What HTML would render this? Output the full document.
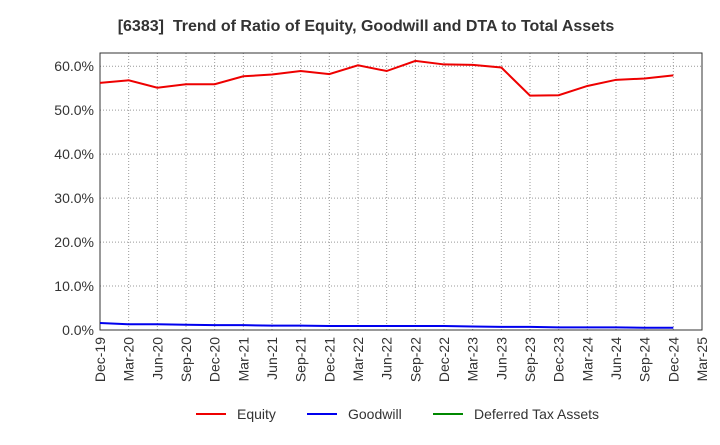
<!DOCTYPE html>
<html><head><meta charset="utf-8"><style>
body{margin:0;background:#fff;font-family:"Liberation Sans",sans-serif;}
</style></head><body>
<svg width="720" height="440" viewBox="0 0 720 440" id="chart">
<text x="366" y="31" text-anchor="middle" font-size="16" font-weight="bold" fill="#333" xml:space="preserve">[6383]  Trend of Ratio of Equity, Goodwill and DTA to Total Assets</text>
<g id="grid"></g><g id="axes"></g><g id="series"></g>
<g>
<line x1="196" y1="414" x2="226" y2="414" stroke="#e00" stroke-width="2"/>
<text x="237" y="419" font-size="14" fill="#333">Equity</text>
<line x1="307" y1="414" x2="337" y2="414" stroke="#00e" stroke-width="2"/>
<text x="348" y="419" font-size="14" fill="#333">Goodwill</text>
<line x1="433" y1="414" x2="463" y2="414" stroke="#080" stroke-width="2"/>
<text x="474" y="419" font-size="14" fill="#333">Deferred Tax Assets</text>
</g>
</svg>
<script>
const categories=["Dec-19","Mar-20","Jun-20","Sep-20","Dec-20","Mar-21","Jun-21","Sep-21","Dec-21","Mar-22","Jun-22","Sep-22","Dec-22","Mar-23","Jun-23","Sep-23","Dec-23","Mar-24","Jun-24","Sep-24","Dec-24","Mar-25"];
const equity=[56.2,56.8,55.1,55.9,55.9,57.7,58.1,58.9,58.2,60.2,58.9,61.2,60.4,60.3,59.7,53.3,53.4,55.5,56.9,57.2,57.9];
const goodwill=[1.6,1.3,1.3,1.2,1.1,1.1,1.0,1.0,0.9,0.9,0.9,0.9,0.9,0.8,0.7,0.7,0.6,0.6,0.6,0.5,0.5];
const yTicks=[0,10,20,30,40,50,60];
const X0=100,X1=702,Y0=330,YTOP=53,YMAX=63;
const ns="http://www.w3.org/2000/svg";
const xs=i=>X0+(X1-X0)*i/(categories.length-1);
const ys=v=>Y0-(Y0-YTOP)*v/YMAX;
function mk(tag,attrs,parent,text){const e=document.createElementNS(ns,tag);for(const k in attrs)e.setAttribute(k,attrs[k]);if(text!==undefined)e.textContent=text;document.getElementById(parent).appendChild(e);return e;}
categories.forEach((c,i)=>{
 const g=mk('line',{x1:xs(i),x2:xs(i),y1:YTOP,y2:Y0,stroke:'#999','stroke-dasharray':'1,2'},'grid');
 
 
 const t=mk('text',{transform:`translate(${xs(i)+5},${Y0+7}) rotate(-90)`,'text-anchor':'end','font-size':14,fill:'#333'},'axes',c);
 
 
});
yTicks.forEach(v=>{
 const g=mk('line',{x1:X0,x2:X1,y1:ys(v),y2:ys(v),stroke:'#999','stroke-dasharray':'1,2'},'grid');
 
 
 const t=mk('text',{x:X0-6,y:ys(v)+5,'text-anchor':'end','font-size':14,fill:'#333'},'axes',v.toFixed(1)+'%');
 
 
});
const fr=mk('rect',{x:X0,y:YTOP,width:X1-X0,height:Y0-YTOP,fill:'none',stroke:'#333'},'axes');


function line(data,color,name){
 const p=mk('polyline',{points:data.map((v,i)=>xs(i)+','+ys(v)).join(' '),fill:'none',stroke:color,'stroke-width':2},'series');
 
 
}
line(equity,'#e00','equity-line');
line(goodwill,'#00e','goodwill-line');
</script>
</body></html>
